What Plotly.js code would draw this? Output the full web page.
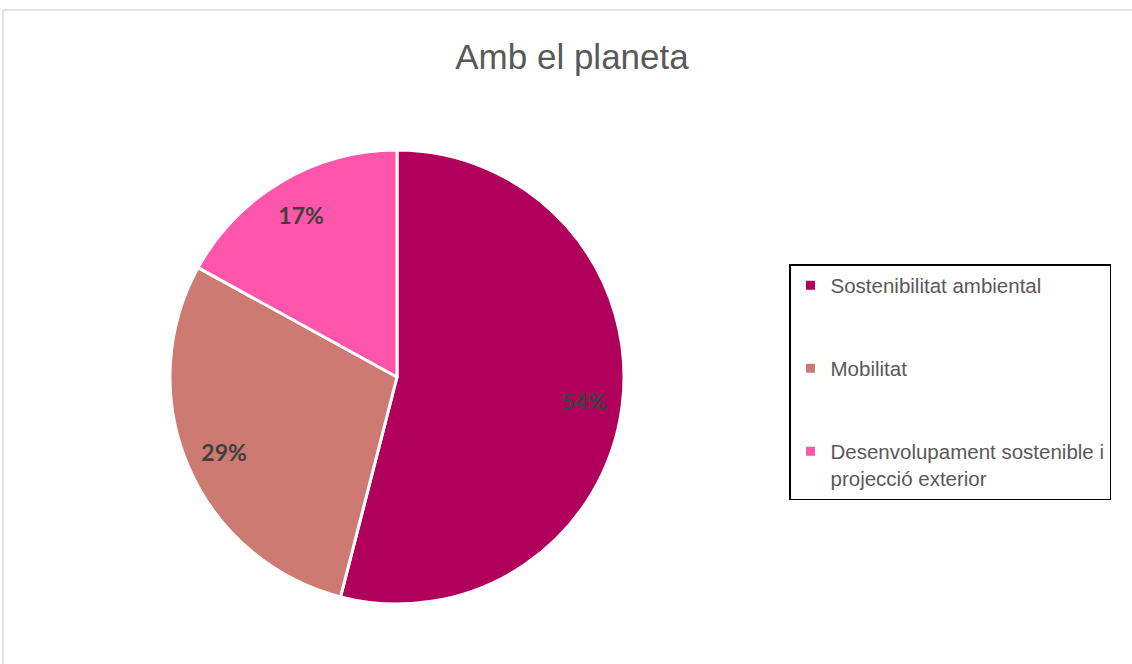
<!DOCTYPE html>
<html>
<head>
<meta charset="utf-8">
<script src="https://cdn.plot.ly/plotly-3.0.1.min.js"></script>
<style>
  html, body { margin: 0; padding: 0; background: #ffffff; overflow: hidden; }
  #chart { width: 1132px; height: 664px; }
</style>
</head>
<body>
<div id="chart"></div>
<script>
const categories = [
  "Sostenibilitat ambiental",
  "Mobilitat",
  "Desenvolupament sostenible i<br>projecció exterior"
];
const values = [54, 29, 17];
const colors = ["#B1005B", "#CD7A73", "#FF55AA"];
const titleText = "Amb el planeta";

// blank spacer lines so legend entries are spaced like the original
const legendNames = categories.map((c, i) => i < 2 ? c + "<br> <br> " : c);

const pieDomain = { x: [170 / 1132, 624 / 1132], y: [1 - 604 / 664, 1 - 150 / 664] };

// base pie: coloured slices with white separators + legend
const basePie = {
  type: "pie",
  labels: legendNames,
  values: values,
  sort: false,
  direction: "clockwise",
  rotation: 0,
  marker: { colors: colors, line: { color: "#ffffff", width: 3 } },
  textinfo: "none",
  hoverinfo: "none",
  domain: pieDomain
};

// transparent ring overlay: only carries the percentage labels, placed toward the rim
const labelRing = {
  type: "pie",
  labels: legendNames,
  values: values,
  sort: false,
  direction: "clockwise",
  rotation: 0,
  hole: 0.66,
  showlegend: false,
  marker: { colors: ["rgba(0,0,0,0)", "rgba(0,0,0,0)", "rgba(0,0,0,0)"], line: { width: 0 } },
  texttemplate: "%{percent:.0%}",
  textposition: "inside",
  insidetextorientation: "horizontal",
  textfont: { family: "Lato, 'Open Sans', sans-serif", size: 23, color: "#404040", weight: "bold" },
  hoverinfo: "none",
  domain: pieDomain
};

const layout = {
  width: 1132,
  height: 664,
  margin: { l: 0, r: 0, t: 0, b: 0, autoexpand: false },
  paper_bgcolor: "#ffffff",
  title: {
    text: titleText,
    font: { family: "'Liberation Sans', Arial, sans-serif", size: 35, color: "#595959" },
    x: 572 / 1132, xanchor: "center",
    y: 1 - 57 / 664, yanchor: "middle"
  },
  showlegend: true,
  legend: {
    x: 789 / 1132, xanchor: "left",
    y: 1 - 264 / 664, yanchor: "top",
    bgcolor: "#ffffff",
    bordercolor: "#000000",
    borderwidth: 1.5,
    valign: "top",
    font: { family: "'Liberation Sans', Arial, sans-serif", size: 20.5, color: "#595959" },
    traceorder: "normal"
  },
  shapes: [
    { type: "line", xref: "paper", yref: "paper", x0: 3 / 1132, x1: 1.01, y0: 1 - 10 / 664, y1: 1 - 10 / 664, line: { color: "#d9d9d9", width: 1.5 } },
    { type: "line", xref: "paper", yref: "paper", x0: 3 / 1132, x1: 3 / 1132, y0: 1 - 10 / 664, y1: -0.01, line: { color: "#d9d9d9", width: 1.5 } }
  ]
};

Plotly.newPlot("chart", [basePie, labelRing], layout, { displayModeBar: false, staticPlot: true });
</script>
</body>
</html>
